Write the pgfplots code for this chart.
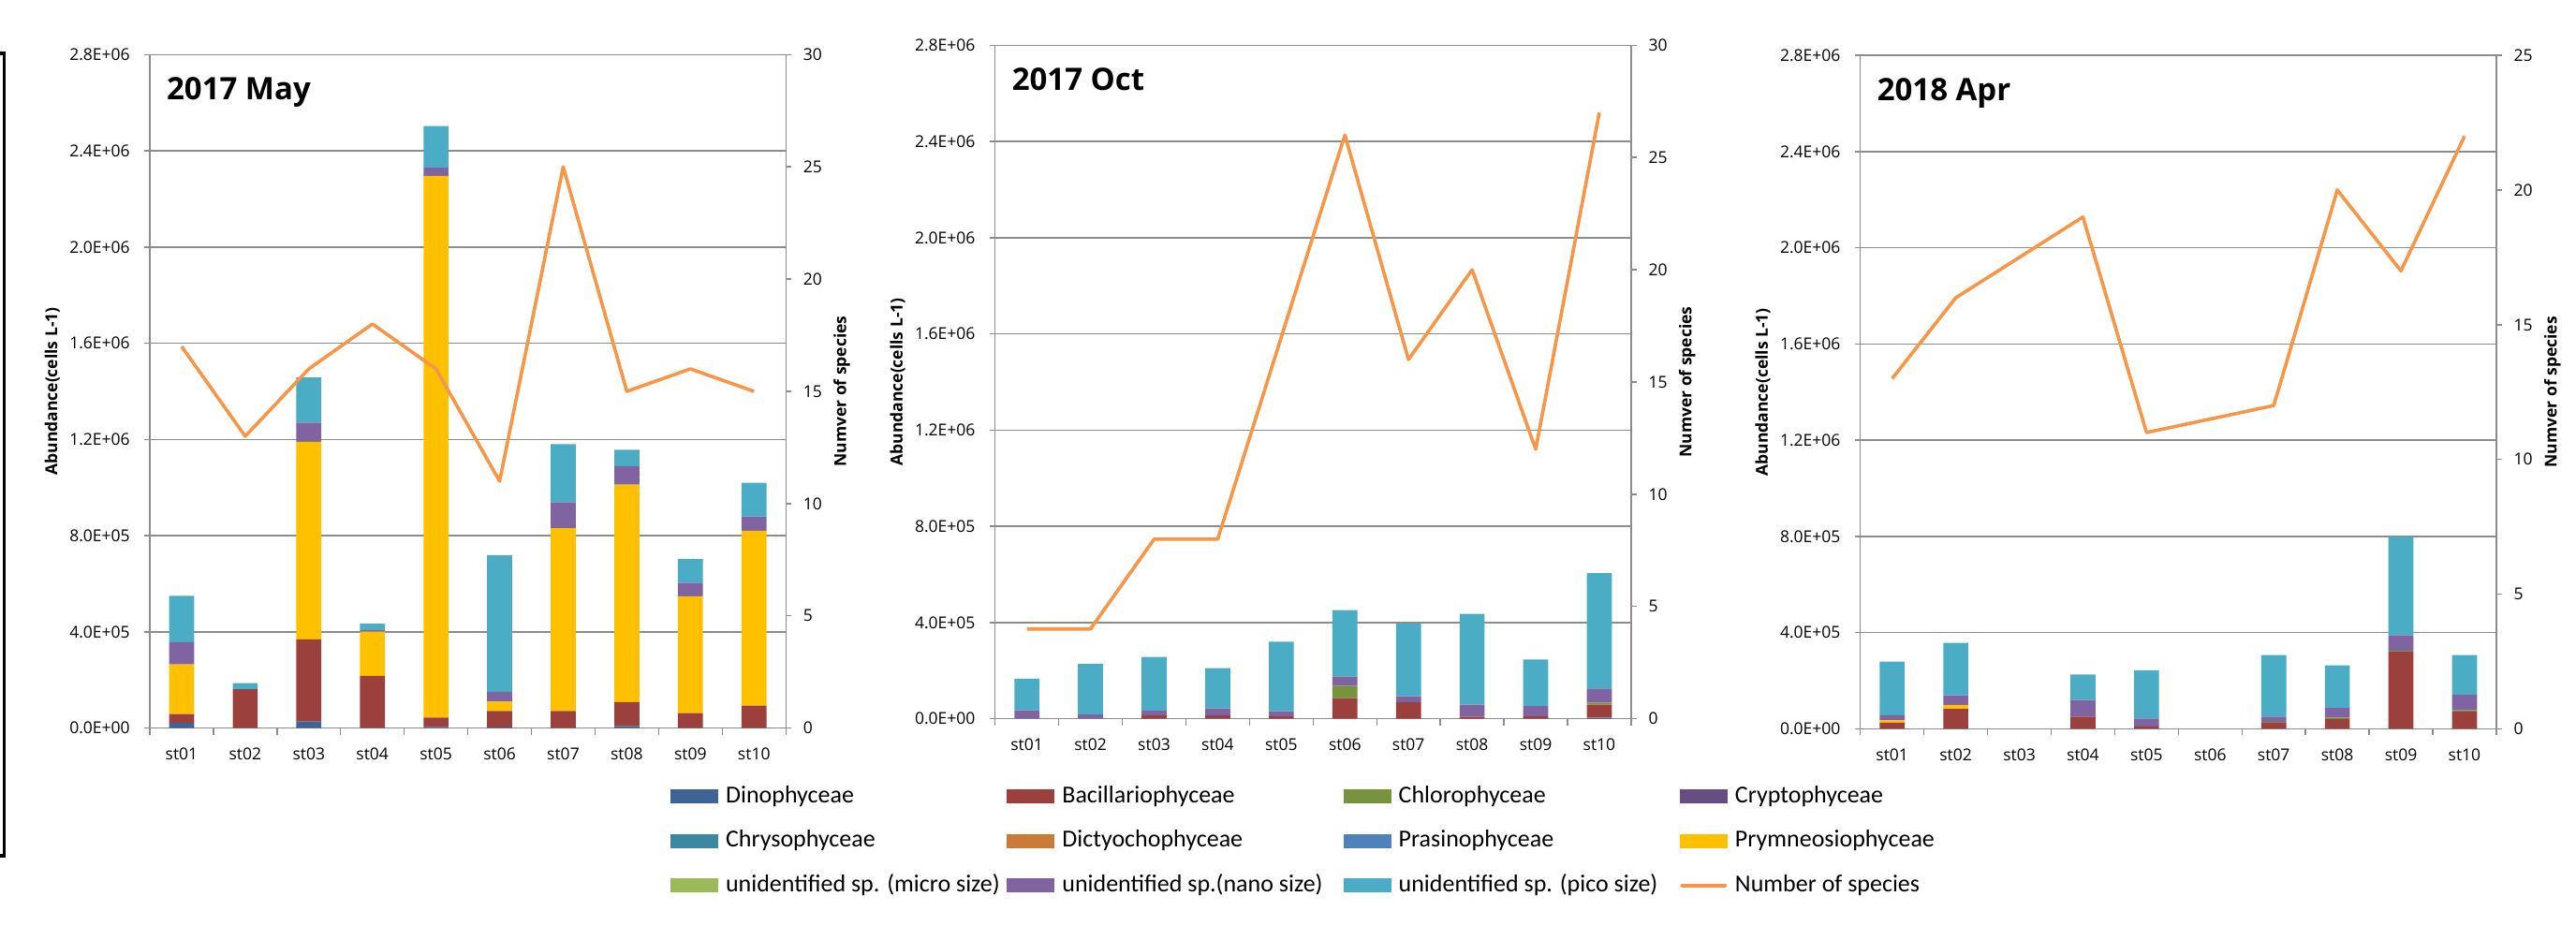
\documentclass[border=0pt]{standalone}
\usepackage{pgfplots}
\pgfplotsset{compat=1.18}
\usepackage{pgfplotstable}
\usepackage{fontspec}
\setmainfont{Open Sans}
\newfontfamily\legfont{Carlito}

\definecolor{cDin}{HTML}{3E6497}
\definecolor{cBac}{HTML}{9C403D}
\definecolor{cChl}{HTML}{77933C}
\definecolor{cCry}{HTML}{664E82}
\definecolor{cChy}{HTML}{3A89A0}
\definecolor{cDic}{HTML}{CC7A38}
\definecolor{cPra}{HTML}{4F81BD}
\definecolor{cPry}{HTML}{FFC000}
\definecolor{cMic}{HTML}{9BBB59}
\definecolor{cNno}{HTML}{8064A2}
\definecolor{cPco}{HTML}{4BACC6}
\definecolor{cNsp}{HTML}{F79646}
\definecolor{gridgray}{HTML}{8C8C8C}

% abundance (cells L-1) per class, and number of species, by station
\pgfplotstableread{
x din bac chl cry chy dic pra pry mic nno pco nsp
0 22000 37000 0 0 0 0 0 206000 0 92000 193000 17
1 0 162000 0 0 0 0 0 0 0 0 25000 13
2 28000 341000 0 0 0 0 0 821000 0 80000 188000 16
3 0 217000 0 0 0 0 0 184000 0 6000 27000 18
4 4000 40000 0 0 0 0 0 2252000 0 34000 173000 16
5 3000 68000 0 0 0 0 0 39000 0 41000 568000 11
6 0 71000 0 0 0 0 0 760000 0 108000 242000 25
7 8000 100000 0 0 0 0 0 904000 0 77000 68000 15
8 0 63000 0 0 0 0 0 485000 0 57000 98000 16
9 0 94000 0 0 0 0 0 727000 0 59000 140000 15
}\maydata

\pgfplotstableread{
x din bac chl cry chy dic pra pry mic nno pco nsp
0 0 0 0 0 0 0 0 0 0 35000 132000 4
1 0 0 0 0 0 0 0 0 0 18000 210000 4
2 0 14000 0 0 0 0 0 0 0 19000 224000 8
3 0 12000 0 3000 0 0 0 0 0 28000 167000 8
4 0 10000 0 0 0 0 0 0 0 21000 289000 17
5 0 86000 50000 0 0 0 0 0 0 39000 277000 26
6 0 69000 0 0 0 0 0 0 0 25000 301000 16
7 0 8000 0 0 0 0 0 0 0 51000 377000 20
8 0 10000 0 0 0 0 0 0 0 43000 193000 12
9 4000 55000 8000 0 0 0 0 0 0 59000 479000 27
}\octdata

\pgfplotstableread{
x din bac chl cry chy dic pra pry mic nno pco nsp
0 0 26000 0 0 0 0 0 9000 0 22000 223000 13
1 0 83000 0 0 0 0 0 17000 0 40000 218000 16
2 0 0 0 0 0 0 0 0 0 0 0 nan
3 0 51000 0 0 0 0 0 0 0 69000 106000 19
4 0 10000 0 0 0 0 0 0 0 33000 201000 11
5 0 0 0 0 0 0 0 0 0 0 0 nan
6 0 26000 4000 0 0 0 0 0 0 21000 256000 12
7 0 41000 6000 0 0 0 0 0 0 40000 177000 20
8 0 321000 4000 0 0 0 0 0 0 65000 409000 17
9 0 71000 6000 0 0 0 0 0 0 65000 165000 22
}\aprdata

\pgfplotsset{
  common/.style={
    scale only axis, width=339.6pt, height=359.7pt, anchor=south west,
    xmin=-0.5, xmax=9.5,
    tick label style={font=\fontsize{8.75}{10}\selectfont, text=black},
    label style={font=\bfseries\fontsize{8.75}{10}\selectfont},
    tick align=outside, major tick length=3pt, minor tick length=3.5pt,
    tick style={gridgray, line width=0.7pt},
    axis line style={gridgray, line width=0.7pt},
    scaled y ticks=false,
    /pgf/number format/assume math mode=true,
  },
  abund/.style={common, ybar stacked, bar width=13.35pt,
    ymin=0, ymax=2.8e6,
    axis x line*=bottom, axis y line*=left,
    ytick={0,400000,800000,1200000,1600000,2000000,2400000,2800000},
    yticklabels={0.0E+00,4.0E+05,8.0E+05,1.2E+06,1.6E+06,2.0E+06,2.4E+06,2.8E+06},
    yticklabel style={xshift=-4.1pt},
    xtick={0,...,9},
    xticklabels={st01,st02,st03,st04,st05,st06,st07,st08,st09,st10},
    minor xtick={-0.5,0.5,...,9.5},
    major x tick style={draw=none},
    xticklabel style={yshift=-3.9pt},
    ymajorgrids, major grid style={gridgray, line width=0.7pt},
    ylabel={Abundance(cells L-1)},
    ylabel style={at={(axis description cs:-0.1533,0.5)}, anchor=center},
  },
  species/.style={common, axis y line*=right, axis x line=none, xtick=\empty,
    ymin=0,
    yticklabel style={xshift=2.8pt},
    ylabel={Numver of species},
    ylabel style={at={(axis description cs:1.088,0.5)}, anchor=center},
  },
  seg/.style={fill=#1, draw=none, forget plot},
  nspline/.style={cNsp, line width=1.8pt, line join=round, mark=none},
  legbox/.style={legend image code/.code={\fill[#1] (0pt,-3.5pt) rectangle (25pt,3.5pt);}},
  legline/.style={legend image code/.code={\path[draw=none,fill=none] (0pt,-3.5pt) rectangle (25pt,3.5pt);
      \draw[#1, line width=2pt, line cap=round] (1pt,0pt) -- (24pt,0pt);}},
}
\tikzset{paneltitle/.style={anchor=base west, font=\bfseries\fontsize{16.5}{18}\selectfont,
    xshift=5.5pt, yshift=-24.35pt}}

\newcommand\stackbars[1]{%
  \addplot[seg=cDin] table[x=x,y=din]{#1};
  \addplot[seg=cBac] table[x=x,y=bac]{#1};
  \addplot[seg=cChl] table[x=x,y=chl]{#1};
  \addplot[seg=cCry] table[x=x,y=cry]{#1};
  \addplot[seg=cChy] table[x=x,y=chy]{#1};
  \addplot[seg=cDic] table[x=x,y=dic]{#1};
  \addplot[seg=cPra] table[x=x,y=pra]{#1};
  \addplot[seg=cPry] table[x=x,y=pry]{#1};
  \addplot[seg=cMic] table[x=x,y=mic]{#1};
  \addplot[seg=cNno] table[x=x,y=nno]{#1};
  \addplot[seg=cPco] table[x=x,y=pco]{#1};
}
\newcommand\legtext[1]{\makebox[154.25pt][l]{\hspace*{4.15pt}#1}}

\begin{document}
\begin{tikzpicture}
\useasboundingbox (0pt,0pt) rectangle (1375.5pt,494.5pt);
\draw[line width=1.75pt] (0pt,466pt) -- (2.25pt,466pt) -- (2.25pt,37.5pt) -- (0pt,37.5pt);

% 2017 May
\begin{axis}[abund, at={(80pt,105.65pt)},
    legend columns=4, legend cell align=left,
    legend style={draw=none, fill=none, inner sep=0pt, column sep=0pt, row sep=11.3pt,
      at={(0.818,-0.0834)}, anchor=north west,
      font=\legfont\fontsize{13}{15}\selectfont,
      nodes={inner sep=0pt, text height=9.5pt, text depth=3pt}}]
  \stackbars{\maydata}
  \node[paneltitle] at (rel axis cs:0,1) {2017 May};
  \addlegendimage{legbox=cDin}\addlegendentry{\legtext{Dinophyceae}}
  \addlegendimage{legbox=cBac}\addlegendentry{\legtext{Bacillariophyceae}}
  \addlegendimage{legbox=cChl}\addlegendentry{\legtext{Chlorophyceae}}
  \addlegendimage{legbox=cCry}\addlegendentry{\legtext{Cryptophyceae}}
  \addlegendimage{legbox=cChy}\addlegendentry{\legtext{Chrysophyceae}}
  \addlegendimage{legbox=cDic}\addlegendentry{\legtext{Dictyochophyceae}}
  \addlegendimage{legbox=cPra}\addlegendentry{\legtext{Prasinophyceae}}
  \addlegendimage{legbox=cPry}\addlegendentry{\legtext{Prymneosiophyceae}}
  \addlegendimage{legbox=cMic}\addlegendentry{\legtext{unidentified sp. (micro size)}}
  \addlegendimage{legbox=cNno}\addlegendentry{\legtext{unidentified sp.(nano size)}}
  \addlegendimage{legbox=cPco}\addlegendentry{\legtext{unidentified sp. (pico size)}}
  \addlegendimage{legline=cNsp}\addlegendentry{\legtext{Number of species}}
\end{axis}
\begin{axis}[species, at={(80pt,105.65pt)}, ymax=30,
    ytick={0,5,10,15,20,25,30}, yticklabels={0,5,10,15,20,25,30}]
  \addplot[nspline] table[x=x,y=nsp]{\maydata};
\end{axis}

% 2017 Oct
\begin{axis}[abund, at={(531.35pt,110.65pt)}]
  \stackbars{\octdata}
  \node[paneltitle] at (rel axis cs:0,1) {2017 Oct};
\end{axis}
\begin{axis}[species, at={(531.35pt,110.65pt)}, ymax=30,
    ytick={0,5,10,15,20,25,30}, yticklabels={0,5,10,15,20,25,30}]
  \addplot[nspline] table[x=x,y=nsp]{\octdata};
\end{axis}

% 2018 Apr
\begin{axis}[abund, at={(993.35pt,105.25pt)}]
  \stackbars{\aprdata}
  \node[paneltitle] at (rel axis cs:0,1) {2018 Apr};
\end{axis}
\begin{axis}[species, at={(993.35pt,105.25pt)}, ymax=25,
    ytick={0,5,10,15,20,25}, yticklabels={0,5,10,15,20,25}]
  \addplot[nspline] table[x=x,y=nsp]{\aprdata};
\end{axis}
\end{tikzpicture}
\end{document}
